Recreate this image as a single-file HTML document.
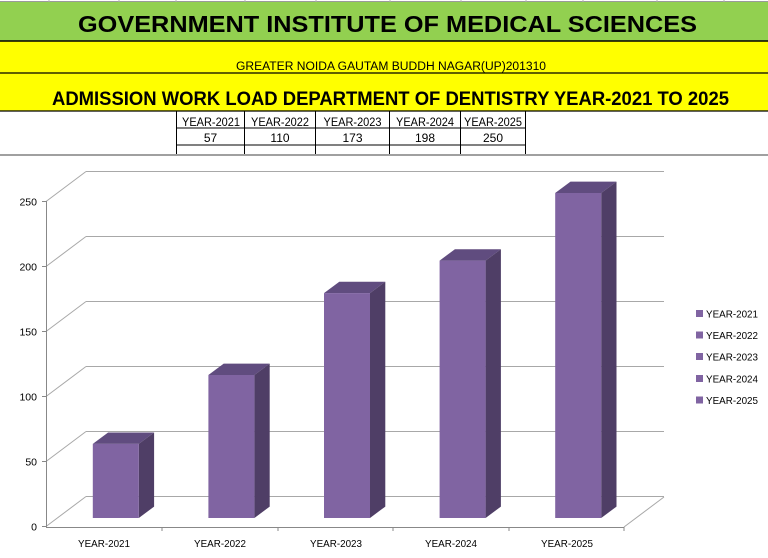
<!DOCTYPE html>
<html><head><meta charset="utf-8"><style>
html,body{margin:0;padding:0;background:#fff;}
svg{display:block;font-family:"Liberation Sans",Arial,sans-serif;}
</style></head><body>
<svg width="768" height="558" viewBox="0 0 768 558" xmlns="http://www.w3.org/2000/svg">
<rect x="0" y="0" width="768" height="558" fill="#fff"/>
<line x1="0" y1="1.5" x2="768" y2="1.5" stroke="#9a9a9a" stroke-width="1"/>
<g stroke="#b0b0b0" stroke-width="1">
<line x1="49" y1="0" x2="49" y2="2"/><line x1="119" y1="0" x2="119" y2="2"/><line x1="176" y1="0" x2="176" y2="2"/><line x1="245" y1="0" x2="245" y2="2"/><line x1="316" y1="0" x2="316" y2="2"/><line x1="390" y1="0" x2="390" y2="2"/><line x1="461" y1="0" x2="461" y2="2"/><line x1="526" y1="0" x2="526" y2="2"/><line x1="583" y1="0" x2="583" y2="2"/><line x1="657" y1="0" x2="657" y2="2"/><line x1="724" y1="0" x2="724" y2="2"/>
</g>
<rect x="0" y="2" width="768" height="39" fill="#92D050"/>
<rect x="0" y="41" width="768" height="70" fill="#FFFF00"/>
<line x1="0" y1="41" x2="768" y2="41" stroke="#000" stroke-width="1.5"/>
<line x1="0" y1="73" x2="768" y2="73" stroke="#000" stroke-width="1.2"/>
<line x1="0" y1="111" x2="768" y2="111" stroke="#000" stroke-width="1.2"/>
<text x="78" y="32" font-size="23" font-weight="bold" textLength="619" lengthAdjust="spacingAndGlyphs" fill="#000">GOVERNMENT INSTITUTE OF MEDICAL SCIENCES</text>
<text x="236" y="70" font-size="11.5" textLength="310" lengthAdjust="spacingAndGlyphs" fill="#000">GREATER NOIDA GAUTAM BUDDH NAGAR(UP)201310</text>
<text x="52" y="105" font-size="19.5" font-weight="bold" textLength="677" lengthAdjust="spacingAndGlyphs" fill="#000">ADMISSION WORK LOAD DEPARTMENT OF DENTISTRY YEAR-2021 TO 2025</text>
<g stroke="#000" stroke-width="1">
<line x1="176.5" y1="111" x2="176.5" y2="154"/>
<line x1="244.5" y1="111" x2="244.5" y2="154"/>
<line x1="315.5" y1="111" x2="315.5" y2="154"/>
<line x1="389.5" y1="111" x2="389.5" y2="154"/>
<line x1="460.5" y1="111" x2="460.5" y2="154"/>
<line x1="525.5" y1="111" x2="525.5" y2="154"/>
<line x1="176" y1="128" x2="526" y2="128"/>
<line x1="176" y1="145" x2="526" y2="145"/>
</g>
<g font-size="12" fill="#000">
<text x="182" y="126" textLength="58" lengthAdjust="spacingAndGlyphs">YEAR-2021</text>
<text x="251" y="126" textLength="58" lengthAdjust="spacingAndGlyphs">YEAR-2022</text>
<text x="323.5" y="126" textLength="58" lengthAdjust="spacingAndGlyphs">YEAR-2023</text>
<text x="396" y="126" textLength="58" lengthAdjust="spacingAndGlyphs">YEAR-2024</text>
<text x="464" y="126" textLength="58" lengthAdjust="spacingAndGlyphs">YEAR-2025</text>
</g>
<g font-size="12" fill="#000" text-anchor="middle">
<text x="210.5" y="142">57</text>
<text x="280" y="142">110</text>
<text x="352.5" y="142">173</text>
<text x="425" y="142">198</text>
<text x="493" y="142">250</text>
</g>
<line x1="0" y1="155" x2="768" y2="155" stroke="#a0a0a0" stroke-width="2"/>
<g stroke="#a8a8a8" stroke-width="1" fill="none">
<line x1="86" y1="171.5" x2="664" y2="171.5"/>
<line x1="86" y1="236.5" x2="664" y2="236.5"/>
<line x1="86" y1="301.5" x2="664" y2="301.5"/>
<line x1="86" y1="366.5" x2="664" y2="366.5"/>
<line x1="86" y1="431.5" x2="664" y2="431.5"/>
<line x1="86" y1="496.5" x2="664" y2="496.5"/>
<line x1="46" y1="201.5" x2="86" y2="171.5"/>
<line x1="46" y1="266.5" x2="86" y2="236.5"/>
<line x1="46" y1="331.5" x2="86" y2="301.5"/>
<line x1="46" y1="396.5" x2="86" y2="366.5"/>
<line x1="46" y1="461.5" x2="86" y2="431.5"/>
<line x1="46" y1="526.5" x2="86" y2="496.5"/>
<line x1="624" y1="527" x2="664" y2="497"/>
</g>
<g stroke="#888" stroke-width="1">
<line x1="46.5" y1="201" x2="46.5" y2="527"/>
<line x1="42" y1="201.5" x2="46" y2="201.5"/>
<line x1="42" y1="266.5" x2="46" y2="266.5"/>
<line x1="42" y1="331.5" x2="46" y2="331.5"/>
<line x1="42" y1="396.5" x2="46" y2="396.5"/>
<line x1="42" y1="461.5" x2="46" y2="461.5"/>
<line x1="42" y1="526.5" x2="46" y2="526.5"/>
<line x1="46" y1="527.5" x2="624" y2="527.5"/>
<line x1="162" y1="527" x2="162" y2="531"/>
<line x1="278" y1="527" x2="278" y2="531"/>
<line x1="393" y1="527" x2="393" y2="531"/>
<line x1="509" y1="527" x2="509" y2="531"/>
<line x1="624" y1="527" x2="624" y2="531"/>
</g>
<g>
<polygon points="92.8,443.9 108.1,432.5 154.1,432.5 138.8,443.9" fill="#604C7F"/>
<polygon points="138.8,443.9 154.1,432.5 154.1,506.6 138.8,518" fill="#4F3E66"/>
<rect x="92.8" y="443.9" width="46" height="74.1" fill="#8064A2"/>
<polygon points="208.4,375 223.7,363.6 269.7,363.6 254.4,375" fill="#604C7F"/>
<polygon points="254.4,375 269.7,363.6 269.7,506.6 254.4,518" fill="#4F3E66"/>
<rect x="208.4" y="375" width="46" height="143" fill="#8064A2"/>
<polygon points="324,293.1 339.3,281.7 385.3,281.7 370,293.1" fill="#604C7F"/>
<polygon points="370,293.1 385.3,281.7 385.3,506.6 370,518" fill="#4F3E66"/>
<rect x="324" y="293.1" width="46" height="224.9" fill="#8064A2"/>
<polygon points="439.6,260.6 454.9,249.2 500.9,249.2 485.6,260.6" fill="#604C7F"/>
<polygon points="485.6,260.6 500.9,249.2 500.9,506.6 485.6,518" fill="#4F3E66"/>
<rect x="439.6" y="260.6" width="46" height="257.4" fill="#8064A2"/>
<polygon points="555.2,193 570.5,181.6 616.5,181.6 601.2,193" fill="#604C7F"/>
<polygon points="601.2,193 616.5,181.6 616.5,506.6 601.2,518" fill="#4F3E66"/>
<rect x="555.2" y="193" width="46" height="325" fill="#8064A2"/>
</g>
<g font-size="10.5" fill="#000" text-anchor="end">
<text x="37" y="205.5">250</text>
<text x="37" y="270.5">200</text>
<text x="37" y="335.5">150</text>
<text x="37" y="400.5">100</text>
<text x="37" y="465.5">50</text>
<text x="37" y="530.5">0</text>
</g>
<g font-size="10.5" fill="#000">
<text x="78" y="547" textLength="52" lengthAdjust="spacingAndGlyphs">YEAR-2021</text>
<text x="194" y="547" textLength="52" lengthAdjust="spacingAndGlyphs">YEAR-2022</text>
<text x="310" y="547" textLength="52" lengthAdjust="spacingAndGlyphs">YEAR-2023</text>
<text x="425" y="547" textLength="52" lengthAdjust="spacingAndGlyphs">YEAR-2024</text>
<text x="541" y="547" textLength="52" lengthAdjust="spacingAndGlyphs">YEAR-2025</text>
</g>
<g fill="#8064A2">
<rect x="696" y="310" width="7" height="7"/>
<rect x="696" y="331.5" width="7" height="7"/>
<rect x="696" y="353" width="7" height="7"/>
<rect x="696" y="375" width="7" height="7"/>
<rect x="696" y="396.5" width="7" height="7"/>
</g>
<g font-size="10.5" fill="#000">
<text x="706" y="317.5" textLength="52" lengthAdjust="spacingAndGlyphs">YEAR-2021</text>
<text x="706" y="339" textLength="52" lengthAdjust="spacingAndGlyphs">YEAR-2022</text>
<text x="706" y="360.5" textLength="52" lengthAdjust="spacingAndGlyphs">YEAR-2023</text>
<text x="706" y="382.5" textLength="52" lengthAdjust="spacingAndGlyphs">YEAR-2024</text>
<text x="706" y="404" textLength="52" lengthAdjust="spacingAndGlyphs">YEAR-2025</text>
</g>
</svg>
</body></html>
